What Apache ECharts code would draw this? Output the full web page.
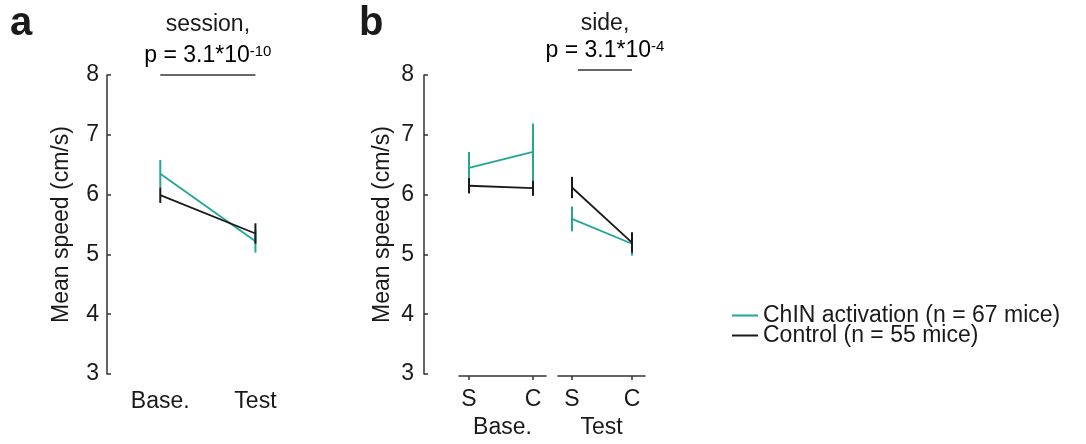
<!DOCTYPE html>
<html>
<head>
<meta charset="utf-8">
<script src="https://cdn.jsdelivr.net/npm/echarts@6/dist/echarts.min.js"></script>
<style>
  html, body { margin: 0; padding: 0; background: #fff; }
  #chart { width: 1086px; height: 444px; }
</style>
</head>
<body>
<div id="chart"></div>
<script>
// Mean running speed, ChIN activation vs. control mice
const sessions = ['Base.', 'Test'];
const sides = ['S', 'C'];
const yTicks = [3, 4, 5, 6, 7, 8];
const groupNames = ['ChIN activation (n = 67 mice)', 'Control (n = 55 mice)'];

// panel a: by session (mean, SEM)
const chinSession = [6.35, 5.22];
const chinSessionSem = [0.23, 0.19];
const ctrlSession = [5.99, 5.35];
const ctrlSessionSem = [0.13, 0.17];

// panel b: by side, within each session
const chinBase = [6.43, 6.70];
const chinBaseSem = [0.27, 0.48];
const ctrlBase = [6.13, 6.09];
const ctrlBaseSem = [0.13, 0.13];
const chinTest = [5.57, 5.15];
const chinTestSem = [0.21, 0.20];
const ctrlTest = [6.10, 5.17];
const ctrlTestSem = [0.18, 0.17];

const stats = [
  { title: 'session,', p: 'p = 3.1*10', exp: '-10' },
  { title: 'side,', p: 'p = 3.1*10', exp: '-4' }
];

const TEAL = '#22a695';
const BLACK = '#1a1a1a';
const AXIS = '#333333';
const FONT = 'Liberation Sans, Arial, Helvetica, sans-serif';
const FS = 23;

function groupSeries(idx, means, sems, name, color) {
  const pts = means.map((m, i) => [i + 1, m]);
  const bars = means.map((m, i) => [i + 1, m, sems[i]]);
  return [
    {
      type: 'custom', name: name + ' SEM', xAxisIndex: idx, yAxisIndex: idx,
      data: bars, encode: { x: 0, y: 1 }, silent: true, z: color === BLACK ? 4 : 3,
      renderItem: (params, api) => {
        const x = api.value(0), m = api.value(1), s = api.value(2);
        const a = api.coord([x, m - s]);
        const b = api.coord([x, m + s]);
        return {
          type: 'line',
          shape: { x1: a[0], y1: a[1], x2: b[0], y2: b[1] },
          style: { stroke: color, lineWidth: 2 }
        };
      }
    },
    {
      type: 'line', name: name, xAxisIndex: idx, yAxisIndex: idx,
      data: pts, symbol: 'none', z: color === BLACK ? 4 : 3,
      lineStyle: { color: color, width: 1.8 }, itemStyle: { color: color }
    }
  ];
}

const baseY = {
  type: 'value', min: 3, max: 8, interval: 1,
  axisLine: { show: true, lineStyle: { color: AXIS, width: 1.5 } },
  axisTick: { show: true, inside: true, length: 4, lineStyle: { color: AXIS, width: 1.5 } },
  splitLine: { show: false },
  name: 'Mean speed (cm/s)', nameLocation: 'middle', nameRotate: 90,
  nameTextStyle: { fontFamily: FONT, fontSize: FS, color: BLACK }
};
const hiddenY = { type: 'value', min: 3, max: 8, show: false, splitLine: { show: false } };

function sideAxis(grid, min, max, label) {
  return {
    type: 'value', gridIndex: grid, min: min, max: max, offset: 5,
    axisLine: { show: true, lineStyle: { color: AXIS, width: 1.5 } },
    axisTick: { show: true, customValues: [1, 2], length: 4, lineStyle: { color: AXIS, width: 1.5 } },
    axisLabel: {
      customValues: [1, 2], formatter: v => sides[Math.round(v) - 1],
      margin: 12, fontFamily: FONT, fontSize: FS, color: BLACK
    },
    splitLine: { show: false },
    name: label, nameLocation: 'middle', nameGap: 31,
    nameTextStyle: { fontFamily: FONT, fontSize: FS, color: BLACK }
  };
}

const option = {
  animation: false,
  backgroundColor: '#ffffff',
  grid: [
    { left: 107, top: 75, width: 196, height: 299 },
    { left: 424, top: 75, width: 20, height: 299 },
    { left: 459, top: 75, width: 87, height: 299 },
    { left: 558, top: 75, width: 87, height: 299 }
  ],
  xAxis: [
    {
      type: 'value', gridIndex: 0, min: 0.44, max: 2.5,
      axisLine: { show: false }, axisTick: { show: false }, splitLine: { show: false },
      axisLabel: {
        customValues: [1, 2], formatter: v => sessions[Math.round(v) - 1],
        margin: 16, fontFamily: FONT, fontSize: FS, color: BLACK
      }
    },
    { type: 'value', gridIndex: 1, min: 0, max: 1, show: false, splitLine: { show: false } },
    sideAxis(2, 0.844, 2.203, sessions[0]),
    sideAxis(3, 0.767, 2.217, sessions[1])
  ],
  yAxis: [
    Object.assign({}, baseY, {
      gridIndex: 0, nameGap: 34,
      axisLabel: { margin: 8, fontFamily: FONT, fontSize: FS, color: BLACK }
    }),
    Object.assign({}, baseY, {
      gridIndex: 1, nameGap: 30,
      axisLabel: { margin: 10, fontFamily: FONT, fontSize: FS, color: BLACK }
    }),
    Object.assign({}, hiddenY, { gridIndex: 2 }),
    Object.assign({}, hiddenY, { gridIndex: 3 })
  ],
  legend: {
    orient: 'vertical', left: 727, top: 299,
    itemWidth: 26, itemHeight: 2, itemGap: -3, icon: 'rect',
    data: groupNames,
    textStyle: { fontFamily: FONT, fontSize: FS, color: BLACK, lineHeight: 20, padding: [0, 0, 0, 0] }
  },
  series: [].concat(
    groupSeries(0, chinSession, chinSessionSem, groupNames[0], TEAL),
    groupSeries(0, ctrlSession, ctrlSessionSem, groupNames[1], BLACK),
    groupSeries(2, chinBase, chinBaseSem, groupNames[0], TEAL),
    groupSeries(2, ctrlBase, ctrlBaseSem, groupNames[1], BLACK),
    groupSeries(3, chinTest, chinTestSem, groupNames[0], TEAL),
    groupSeries(3, ctrlTest, ctrlTestSem, groupNames[1], BLACK)
  )
};

const chart = echarts.init(document.getElementById('chart'), null, { renderer: 'canvas' });
chart.setOption(option);

// significance bars and their labels, placed on the data scales
function statGraphics(grid, x0, x1, yLift, s, titleY, pY) {
  const a = chart.convertToPixel({ gridIndex: grid }, [x0, 8]);
  const b = chart.convertToPixel({ gridIndex: grid }, [x1, 8]);
  const y = a[1] - yLift;
  const cx = (a[0] + b[0]) / 2;
  return [
    { type: 'line', shape: { x1: a[0], y1: y, x2: b[0], y2: y }, style: { stroke: AXIS, lineWidth: 1.5 } },
    { type: 'text', x: cx, y: titleY,
      style: { text: s.title, align: 'center', verticalAlign: 'middle', font: FS + 'px ' + FONT, fill: BLACK } },
    { type: 'text', x: cx, y: pY,
      style: {
        text: '{m|' + s.p + '}{s|' + s.exp + '}', align: 'center', verticalAlign: 'middle',
        rich: {
          m: { fontFamily: FONT, fontSize: FS, color: BLACK, verticalAlign: 'bottom' },
          s: { fontFamily: FONT, fontSize: 15, color: BLACK, verticalAlign: 'top' }
        }
      } }
  ];
}

chart.setOption({
  graphic: [
    { type: 'text', x: 10, y: 24, style: { text: 'a', verticalAlign: 'middle', font: 'bold 40px ' + FONT, fill: BLACK } },
    { type: 'text', x: 359, y: 24, style: { text: 'b', verticalAlign: 'middle', font: 'bold 40px ' + FONT, fill: BLACK } }
  ].concat(
    statGraphics(0, 1, 2, 0, stats[0], 25, 56),
    statGraphics(3, 1.1, 2, 5, stats[1], 24, 51)
  )
});
</script>
</body>
</html>
